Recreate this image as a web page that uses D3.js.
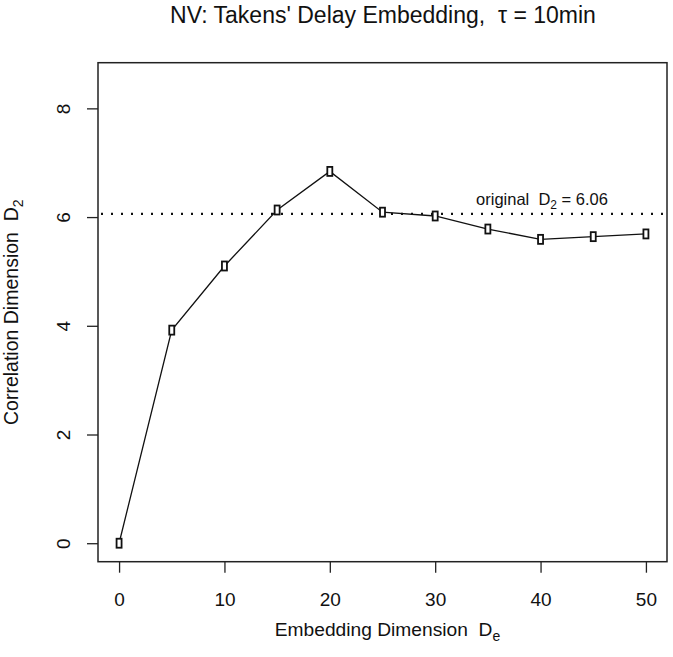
<!DOCTYPE html>
<html>
<head>
<meta charset="utf-8">
<script src="https://cdn.jsdelivr.net/npm/d3@7"></script>
<style>
  body { margin: 0; background: #fff; }
  svg { font-family: "Liberation Sans", Arial, sans-serif; }
</style>
</head>
<body>
<div id="container"></div>
<script>
const width = 673, height = 657;
const margin = { top: 62.7, right: 6, bottom: 95.3, left: 98 };

// data
const embedDims = [0, 5, 10, 15, 20, 25, 30, 35, 40, 45, 50];
const corrDims = [0, 3.92, 5.10, 6.13, 6.84, 6.09, 6.02, 5.78, 5.59, 5.64, 5.69];
const originalD2 = 6.06;
const xTicks = [0, 10, 20, 30, 40, 50];
const yTicks = [0, 2, 4, 6, 8];

const svg = d3.select("#container").append("svg")
  .attr("width", width)
  .attr("height", height);

// R style: 4% padding around data range
const xDom = [0, 50], yDom = [0, 8.5];
const xPad = (xDom[1] - xDom[0]) * 0.04, yPad = (yDom[1] - yDom[0]) * 0.04;

const xScale = d3.scaleLinear()
  .domain([xDom[0] - xPad, xDom[1] + xPad])
  .range([margin.left, width - margin.right]);

const yScale = d3.scaleLinear()
  .domain([yDom[0] - yPad, yDom[1] + yPad])
  .range([height - margin.bottom, margin.top]);

// box
svg.append("rect")
  .attr("x", margin.left)
  .attr("y", margin.top)
  .attr("width", width - margin.left - margin.right)
  .attr("height", height - margin.top - margin.bottom)
  .attr("fill", "none")
  .attr("stroke", "#222")
  .attr("stroke-width", 1.5);

// axes
const xAxis = d3.axisBottom(xScale).tickValues(xTicks).tickSize(11).tickPadding(20);
const gx = svg.append("g")
  .attr("transform", `translate(0, ${height - margin.bottom})`)
  .call(xAxis);
gx.select(".domain").remove();
gx.selectAll("line").attr("stroke", "#222").attr("stroke-width", 1.3);
gx.selectAll("text").style("font-size", "19px").attr("fill", "#111");

const yAxis = d3.axisLeft(yScale).tickValues(yTicks).tickSize(11).tickFormat(d3.format("d"));
const gy = svg.append("g")
  .attr("transform", `translate(${margin.left}, 0)`)
  .call(yAxis);
gy.select(".domain").remove();
gy.selectAll("line").attr("stroke", "#222").attr("stroke-width", 1.3);
gy.selectAll("text")
  .style("font-size", "19px")
  .attr("fill", "#111")
  .attr("x", null).attr("dy", null)
  .attr("text-anchor", "middle")
  .attr("transform", "translate(-35, 0) rotate(-90)")
  .attr("dominant-baseline", "central");

// dotted reference line
svg.append("line")
  .attr("x1", xScale.range()[0] + 3)
  .attr("x2", xScale.range()[1])
  .attr("y1", yScale(originalD2))
  .attr("y2", yScale(originalD2))
  .attr("stroke", "#111")
  .attr("stroke-width", 2.2)
  .attr("stroke-dasharray", "2,8");

svg.append("text")
  .attr("x", 542)
  .attr("y", yScale(originalD2) - 9)
  .attr("text-anchor", "middle")
  .style("font-size", "16.5px")
  .attr("fill", "#111")
  .html('original&#160;&#160;D<tspan dy="4" font-size="12">2</tspan><tspan dy="-4"> = 6.06</tspan>');

// line
const line = d3.line()
  .x((d, i) => xScale(embedDims[i]))
  .y(d => yScale(d));

svg.append("path")
  .datum(corrDims)
  .attr("fill", "none")
  .attr("stroke", "#111")
  .attr("stroke-width", 1.3)
  .attr("d", line);

// markers
svg.selectAll("rect.pt")
  .data(corrDims)
  .join("rect")
  .attr("class", "pt")
  .attr("x", (d, i) => xScale(embedDims[i]) - 2.5)
  .attr("y", d => yScale(d) - 4.5)
  .attr("width", 5)
  .attr("height", 9)
  .attr("fill", "#fff")
  .attr("stroke", "#111")
  .attr("stroke-width", 1.8);

// titles
svg.append("text")
  .attr("x", 383)
  .attr("y", 23)
  .attr("text-anchor", "middle")
  .style("font-size", "23px")
  .attr("fill", "#111")
  .html("NV: Takens' Delay Embedding,&#160;&#160;τ = 10min");

svg.append("text")
  .attr("x", (margin.left + width - margin.right) / 2 + 5)
  .attr("y", 636)
  .attr("text-anchor", "middle")
  .style("font-size", "19.2px")
  .attr("fill", "#111")
  .html('Embedding Dimension&#160;&#160;D<tspan dy="5" font-size="14">e</tspan>');

svg.append("text")
  .attr("transform", `translate(18, ${(margin.top + height - margin.bottom) / 2}) rotate(-90)`)
  .attr("text-anchor", "middle")
  .style("font-size", "19.5px")
  .attr("fill", "#111")
  .html('Correlation Dimension&#160;&#160;D<tspan dy="5" font-size="14">2</tspan>');
</script>
</body>
</html>
